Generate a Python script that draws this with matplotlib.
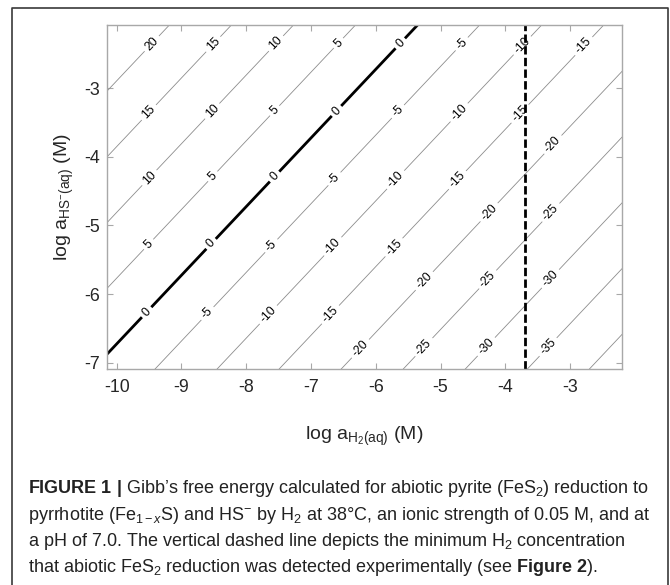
import numpy as np
import matplotlib
matplotlib.use('Agg')
import matplotlib.pyplot as plt
from matplotlib.lines import Line2D

plt.rcParams['font.family'] = ['Liberation Sans', 'DejaVu Sans']
plt.rcParams['mathtext.fontset'] = 'custom'
plt.rcParams['mathtext.rm'] = 'Liberation Sans'
plt.rcParams['mathtext.it'] = 'Liberation Sans:italic'
plt.rcParams['mathtext.bf'] = 'Liberation Sans:bold'
plt.rcParams['axes.unicode_minus'] = False

# axis ranges, log activities (M)
log_h2_range = [-10.15, -2.2]
log_hs_range = [-7.09, -2.08]

# Gibbs energy: dG = dg0 + dg_slope * (log aHS - log aH2)
dg0 = -17.1      # kJ/mol
dg_slope = 5.22  # kJ/mol per log unit

levels = [-40, -35, -30, -25, -20, -15, -10, -5, 0, 5, 10, 15, 20]
h2_min_detected = -3.70   # log aH2 where abiotic reduction was seen

xticks = [-10, -9, -8, -7, -6, -5, -4, -3]
yticks = [-7, -6, -5, -4, -3]

# contour label spots (log aH2, log aHS)
label_spots = [
    (-9.46, -2.35), (-8.52, -2.35), (-7.54, -2.35), (-6.57, -2.35), (-5.62, -2.35),
    (-4.68, -2.35), (-3.77, -2.35), (-2.83, -2.35),
    (-9.54, -3.32), (-8.54, -3.32), (-7.57, -3.32), (-6.62, -3.32), (-5.68, -3.32),
    (-4.75, -3.32), (-3.83, -3.32), (-3.29, -3.80),
    (-9.49, -4.31), (-8.49, -4.31), (-7.54, -4.31), (-6.65, -4.31), (-5.72, -4.31),
    (-4.77, -4.31), (-4.26, -4.80), (-3.31, -4.80),
    (-9.49, -5.29), (-8.52, -5.29), (-7.62, -5.29), (-6.68, -5.29), (-5.75, -5.29),
    (-5.26, -5.80), (-4.29, -5.77), (-3.31, -5.77),
    (-9.52, -6.28), (-8.60, -6.28), (-7.68, -6.28), (-6.72, -6.28), (-6.22, -6.81),
    (-5.26, -6.77), (-4.29, -6.77), (-3.34, -6.77),
]

caption = [
    r'$\mathbf{FIGURE\ 1\ |}$ Gibb’s free energy calculated for abiotic pyrite (FeS$_2$) reduction to',
    r'pyrrhotite (Fe$_{1-x}$S) and HS$^{-}$ by H$_2$ at 38°C, an ionic strength of 0.05 M, and at',
    r'a pH of 7.0. The vertical dashed line depicts the minimum H$_2$ concentration',
    r'that abiotic FeS$_2$ reduction was detected experimentally (see $\mathbf{Figure\ 2}$).',
]

W, H = 670, 585
fig = plt.figure(figsize=(W / 100, H / 100), dpi=100)
ax = fig.add_axes([107 / W, 1 - 369 / H, 515 / W, 344 / H])

xg = np.linspace(log_h2_range[0] - 0.2, log_h2_range[1] + 0.2, 300)
yg = np.linspace(log_hs_range[0] - 0.2, log_hs_range[1] + 0.2, 300)
X, Y = np.meshgrid(xg, yg)
Z = dg0 + dg_slope * (Y - X)

thin = [lv for lv in levels if lv != 0]
cs = ax.contour(X, Y, Z, levels=thin, colors='#8c8c8c', linewidths=0.6,
                negative_linestyles='solid')
cs0 = ax.contour(X, Y, Z, levels=[0], colors='k', linewidths=2.0)

zero_spots = []
other_spots = []
for sx, sy in label_spots:
    if abs(dg0 + dg_slope * (sy - sx)) < 2.5:
        zero_spots.append((sx, sy))
    else:
        other_spots.append((sx, sy))

ax.clabel(cs, manual=other_spots, fmt='%d', fontsize=8.8, inline=True,
          inline_spacing=3, colors='k')
ax.clabel(cs0, manual=zero_spots, fmt='%d', fontsize=8.8, inline=True,
          inline_spacing=3, colors='k')

ax.axvline(h2_min_detected, color='k', lw=2, linestyle=(0, (3, 1.2)))

ax.set_xlim(log_h2_range)
ax.set_ylim(log_hs_range)
ax.set_xticks(xticks)
ax.set_yticks(yticks)
ax.tick_params(direction='in', length=4.5, width=0.8, color='#a8a8a8',
               top=True, right=True, labelsize=12.8, labelcolor='#262626')
ax.tick_params(axis='x', pad=7)
ax.tick_params(axis='y', pad=5)
for sp in ax.spines.values():
    sp.set_color('#a8a8a8')
    sp.set_linewidth(1.0)

ax.set_xlabel(r'log a$_{\mathrm{H_2(aq)}}$ (M)', fontsize=14, color='#262626')
ax.set_ylabel(r'log a$_{\mathrm{HS^{-}(aq)}}$ (M)', fontsize=14, color='#262626')
ax.xaxis.set_label_coords(0.5, -0.162)
ax.yaxis.set_label_coords(-0.06, 0.5)

# outer frame of the figure panel
fig.add_artist(Line2D([12 / W, 12 / W, 668 / W, 668 / W],
                      [-0.02, 1 - 8 / H, 1 - 8 / H, -0.02],
                      transform=fig.transFigure, color='#3a3a3a', lw=1.2))

baselines = [493, 519.5, 546, 572.5]
for txt, yb in zip(caption, baselines):
    fig.text(28 / W, 1 - yb / H, txt, fontsize=12.95, color='#222222',
             ha='left', va='baseline')

fig.savefig('out.png', dpi=100)
